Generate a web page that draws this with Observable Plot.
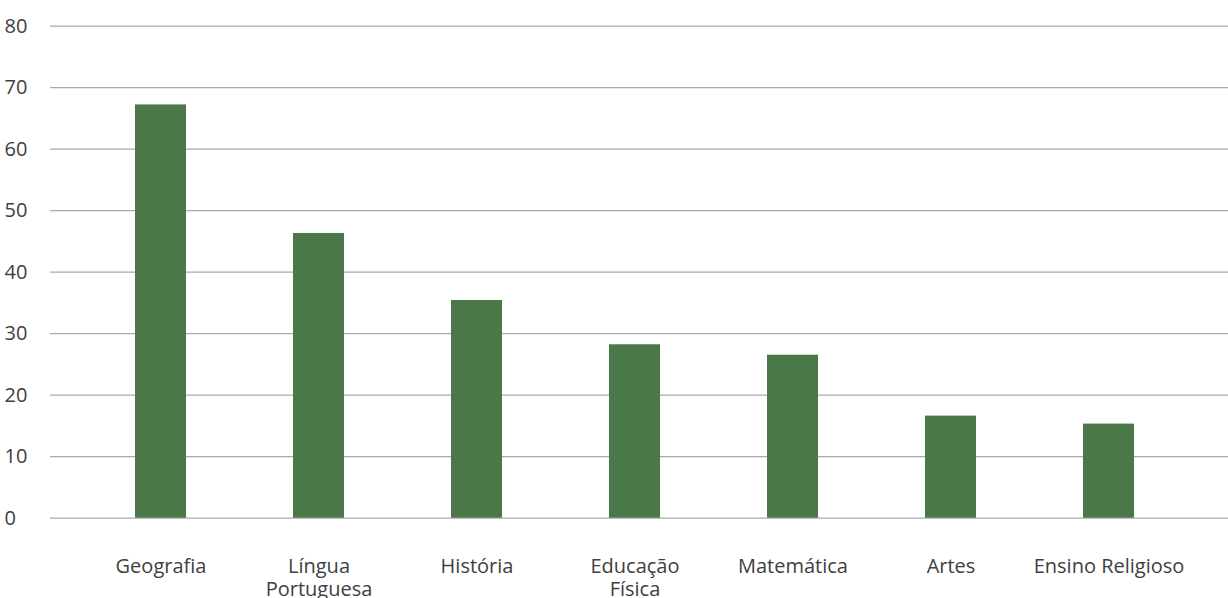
<!DOCTYPE html>
<html>
<head>
<meta charset="utf-8">
<script src="https://cdn.jsdelivr.net/npm/d3@7"></script>
<script src="https://cdn.jsdelivr.net/npm/@observablehq/plot@0.6"></script>
<style>
  html, body { margin: 0; padding: 0; background: #fff; }
  #chart svg { display: block; }
</style>
</head>
<body>
<div id="chart"></div>
<script>
const categories = ["Geografia", "Língua Portuguesa", "História", "Educação Física", "Matemática", "Artes", "Ensino Religioso"];
const tickLabels = ["Geografia", "Língua\nPortuguesa", "História", "Educação\nFísica", "Matemática", "Artes", "Ensino Religioso"];
const values = [67.2, 46.3, 35.4, 28.2, 26.5, 16.6, 15.3];
const yTicks = [0, 10, 20, 30, 40, 50, 60, 70, 80];

const data = categories.map((c, i) => ({category: c, value: values[i]}));
const labelOf = new Map(categories.map((c, i) => [c, tickLabels[i]]));

const chart = Plot.plot({
  width: 1228,
  height: 598,
  marginLeft: 50,
  marginRight: 0,
  marginTop: 25,
  marginBottom: 80,
  style: {fontFamily: "'Open Sans', sans-serif", fontSize: "20px", color: "#404040", background: "#fff"},
  x: {domain: categories, range: [79.5, 1189], paddingInner: 0.678, paddingOuter: 0.339, label: null},
  y: {domain: [0, 80], range: [517.7, 25.7], label: null},
  marks: [
    Plot.ruleY(yTicks, {stroke: "#a9a9a9", strokeWidth: 1.2}),
    Plot.barY(data, {x: "category", y: "value", fill: "#4a7848"}),
    Plot.axisY({ticks: yTicks, tickSize: 0, textAnchor: "start", dx: -37, fontSize: 20, fill: "#404040", label: null}),
    Plot.axisX({tickSize: 0, tickPadding: 38, fontSize: 20, fill: "#404040", lineHeight: 1.15, tickFormat: d => labelOf.get(d), label: null})
  ]
});
document.getElementById("chart").appendChild(chart);
</script>
</body>
</html>
